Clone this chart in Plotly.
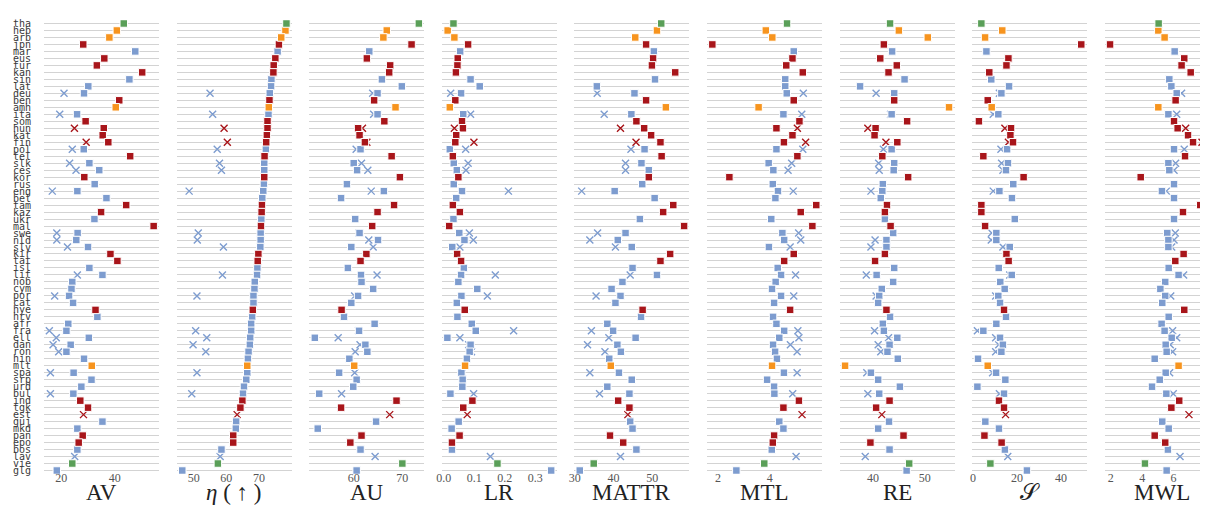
import plotly.graph_objects as go

# ---------------- data ----------------
LANGS = ["tha", "heb", "arb", "jpn", "mar", "eus", "tur", "kan", "sin", "lat",
         "deu", "ben", "amh", "ita", "som", "hun", "kat", "fin", "pol", "tel",
         "slk", "ces", "kor", "rus", "eng", "bel", "tam", "kaz", "ukr", "mal",
         "swe", "nld", "slv", "kir", "tat", "isl", "lit", "nob", "cym", "por",
         "cat", "hye", "hrv", "afr", "fra", "ell", "dan", "ron", "hin", "mlt",
         "spa", "srp", "urd", "bul", "ind", "tgk", "est", "guj", "mkd", "pan",
         "epo", "bos", "lav", "vie", "glg"]

GROUPS = ["g", "o", "o", "r", "b", "r", "r", "r", "b", "b",
          "b", "r", "o", "b", "r", "r", "r", "r", "b", "r",
          "b", "b", "r", "b", "b", "b", "r", "r", "b", "r",
          "b", "b", "b", "r", "r", "b", "b", "b", "b", "b",
          "b", "r", "b", "b", "b", "b", "b", "b", "b", "o",
          "b", "b", "b", "b", "r", "r", "r", "b", "b", "r",
          "r", "b", "b", "g", "b"]

X_LANGS = ["deu", "ita", "hun", "fin", "pol", "slk", "ces", "eng", "swe", "nld",
           "slv", "lit", "por", "fra", "ell", "dan", "ron", "spa", "bul", "est", "lav"]

AV_SQ = [43.4, 40.8, 38.0, 28.2, 47.7, 36.1, 33.3, 50.3, 45.5, 30.1,
         28.5, 41.7, 40.4, 25.9, 29.1, 35.9, 35.5, 37.6, 28.4, 45.8,
         30.5, 34.2, 28.6, 32.5, 26.0, 36.9, 44.3, 34.9, 32.4, 54.6,
         26.1, 25.6, 30.0, 38.4, 41.0, 30.5, 35.4, 24.1, 23.8, 22.9,
         24.4, 32.8, 33.5, 22.6, 21.9, 30.3, 23.5, 21.9, 28.5, 31.4,
         24.6, 31.3, 27.5, 24.5, 27.1, 30.0, None, 35.4, 26.0, 28.0,
         26.5, 26.0, None, 24.1, 18.3]
AV_X = [21.0, 19.4, 24.9, 29.3, 24.1, 23.1, 25.5, 16.6, 18.3, 18.3,
        22.3, 26.0, 17.5, 15.5, 18.1, 16.9, 19.0, 15.9, 15.9, 28.3, 25.0]

ETA_SQ = [78.4, 78.1, 76.8, 76.1, 75.7, 75.0, 74.5, 74.4, 73.8, 73.7,
          73.3, 73.2, 73.0, 72.9, 72.6, 72.6, 72.4, 72.2, 72.1, 71.7,
          71.6, 71.6, 71.6, 71.5, 71.3, 71.0, 70.9, 70.8, 70.7, 70.6,
          70.5, 70.5, 70.4, 69.8, 69.6, 69.5, 69.4, 68.7, 68.6, 68.3,
          68.3, 68.1, 67.9, 67.6, 67.6, 67.3, 67.2, 66.8, 66.6, 66.4,
          66.4, 66.1, 65.4, 65.1, 64.9, 64.3, None, 63.0, 62.9, 62.1,
          62.1, 58.5, None, 57.4, 46.5]
ETA_X = [55.0, 55.8, 59.3, 60.3, 57.2, 57.9, 58.5, 48.6, 51.4, 51.1,
         59.1, 58.8, 51.0, 50.6, 54.0, 49.8, 53.7, 51.0, 49.4, 63.3, 58.1]

AU_SQ = [73.4, 66.8, 66.1, 71.9, 63.2, 62.7, 67.5, 67.3, 65.8, 69.9,
         64.9, 64.2, 68.6, 64.9, 66.3, 60.9, 61.2, 62.3, 61.4, 67.8,
         60.0, 60.7, 69.5, 58.6, 66.2, 57.4, 68.3, 64.9, 60.3, 63.8,
         61.2, 65.0, 59.5, 62.6, 61.4, 58.8, 61.5, 61.6, 64.0, 60.9,
         59.5, 57.5, 58.0, 64.3, 61.1, 52.0, 62.4, 62.8, 59.1, 60.1,
         57.0, 60.6, 59.9, 52.9, 68.8, 57.4, None, 64.6, 52.6, 61.6,
         59.3, 61.4, None, 70.0, 60.6]
AU_X = [63.9, 64.1, 61.8, 62.7, 60.5, 61.6, 62.9, 63.6, 61.1, 63.1,
        64.0, 64.8, 60.2, 61.0, 56.8, 61.3, 60.3, 60.2, 57.5, 67.4, 64.4]

LR_SQ = [0.032, 0.013, 0.035, 0.080, 0.054, 0.046, 0.045, 0.040, 0.088, 0.118,
         0.057, 0.038, 0.020, 0.064, 0.060, 0.063, 0.041, 0.038, 0.020, 0.030,
         0.033, 0.043, 0.048, 0.033, 0.060, 0.041, 0.030, 0.053, 0.032, 0.018,
         0.051, 0.068, 0.028, 0.044, 0.057, 0.066, 0.057, 0.048, 0.110, 0.058,
         0.043, 0.069, 0.045, 0.092, 0.105, 0.012, 0.088, 0.085, 0.076, 0.070,
         0.058, 0.062, 0.061, 0.022, 0.094, 0.064, None, 0.049, 0.026, 0.052,
         0.027, 0.027, None, 0.176, 0.352]
LR_X = [0.023, 0.088, 0.035, 0.099, 0.072, 0.080, 0.073, 0.212, 0.084, 0.097,
        0.053, 0.169, 0.143, 0.229, 0.053, 0.082, 0.091, 0.061, 0.098, 0.077, 0.153]

MATTR_SQ = [52.3, 51.2, 45.6, 48.4, 50.4, 50.2, 49.9, 55.9, 50.7, 35.7,
            45.4, 48.4, 53.5, 44.6, 45.9, 47.9, 49.7, 52.1, 48.0, 52.4,
            47.2, 49.1, 49.1, 47.4, 40.3, 50.6, 55.4, 52.8, 46.8, 58.2,
            43.1, 41.1, 44.7, 54.6, 52.1, 44.9, 51.2, 42.3, 39.5, 41.8,
            40.5, 47.5, 47.1, 38.4, 39.9, 45.7, 41.0, 41.9, 38.9, 39.3,
            41.4, 44.7, 38.4, 44.1, 41.2, 44.1, None, 44.3, 44.9, 39.1,
            42.5, 45.9, None, 34.9, 31.3]
MATTR_X = [35.8, 37.6, 41.8, 45.8, 44.5, 43.1, 43.1, 31.8, 35.9, 33.9,
           40.5, 44.3, 35.5, 34.3, 38.8, 33.3, 37.8, 33.9, 36.4, 43.7, 41.8]

MTL_SQ = [4.67, 3.85, 4.10, 1.78, 4.93, 4.88, 4.64, 5.28, 4.60, 4.60,
          4.66, 4.93, 3.57, 4.53, 5.15, 4.26, 4.88, 4.55, 4.26, 5.07,
          3.96, 4.14, 2.44, 4.12, 4.32, 4.22, 5.80, 5.20, 4.06, 5.65,
          4.49, 4.56, 3.97, 4.93, 4.56, 4.31, 4.44, 4.23, 4.09, 4.44,
          4.17, 4.79, 4.13, 4.26, 4.56, 4.37, 4.13, 4.21, 4.28, 4.09,
          4.55, 3.90, 4.17, 4.18, 5.13, 4.53, None, 4.37, 4.53, 4.17,
          4.12, 4.08, None, 3.79, 2.71]
MTL_X = [5.30, 5.24, 5.07, 5.39, 5.28, 4.85, 4.71, 4.91, 5.12, 5.20,
         4.79, 5.00, 4.93, 5.09, 5.13, 4.80, 5.06, 5.06, 4.89, 5.25, 5.02]

RE_SQ = [43.3, 45.0, 50.6, 42.1, 43.7, 41.4, 44.6, 43.0, 46.1, 37.5,
         44.1, 44.1, 54.7, 43.6, 46.6, 40.5, 40.3, 44.7, 43.6, 41.8,
         44.1, 44.0, 46.8, 41.9, 41.8, 41.5, 42.7, 42.3, 42.3, 43.4,
         43.9, 42.6, 42.6, 42.3, 40.4, 44.1, 40.7, 43.9, 41.7, 41.2,
         41.0, 42.6, 43.3, 41.9, 42.1, 44.7, 43.2, 42.8, 44.8, 34.6,
         39.6, 41.0, 45.2, 41.2, 43.2, 40.6, None, 43.1, 41.0, 45.9,
         39.5, 43.2, None, 47.0, 46.5]
RE_X = [40.6, 43.4, 39.0, 42.5, 42.0, 41.1, 41.2, 39.6, 43.9, 40.4,
        39.6, 38.7, 40.6, 40.3, 43.0, 41.0, 41.5, 38.8, 39.0, 41.7, 38.5]

S_SQ = [3.8, 13.3, 5.5, 49.2, 6.1, 16.1, 15.2, 7.4, 8.3, 16.4,
        12.9, 6.7, 8.5, 11.5, 2.7, 17.3, 17.0, 18.2, 15.5, 4.7,
        15.9, 15.0, 23.0, 18.3, 12.0, 17.7, 3.8, 3.8, 19.0, 5.5,
        10.6, 10.6, 16.7, 15.2, 16.2, 11.7, 17.6, 12.4, 14.4, 11.5,
        12.3, 14.1, 15.0, 10.6, 4.7, 12.3, 13.6, 12.9, 2.3, 6.7,
        10.5, 14.7, 2.0, 14.1, 11.8, 14.1, None, 5.6, 11.8, 5.2,
        13.0, 14.5, None, 7.9, 24.5]
S_X = [12.0, 9.2, 14.5, 16.1, 12.7, 13.0, 13.6, 9.2, 8.5, 8.3,
       13.6, 16.7, 10.3, 2.0, 10.3, 11.7, 10.3, 8.9, 12.0, 14.8, 15.8]

MWL_SQ = [5.05, 5.03, 5.43, 1.96, 6.07, 6.68, 6.51, 7.09, 5.73, 5.86,
          6.20, 6.13, 5.03, 5.67, 6.03, 6.26, 6.92, 7.24, 6.03, 6.73,
          5.67, 5.73, 3.91, 6.03, 5.26, 6.03, 7.70, 6.60, 6.03, 8.55,
          5.60, 5.67, 5.67, 6.64, 6.11, 5.69, 6.32, 5.47, 5.16, 5.47,
          5.28, 6.68, 5.69, 5.24, 5.43, 5.88, 5.50, 5.56, 4.80, 6.32,
          5.50, 5.12, 4.63, 5.54, 6.36, 5.86, None, 5.28, 5.69, 4.80,
          5.47, 5.64, None, 4.18, 5.56]
MWL_X = [6.51, 6.20, 6.77, 7.81, 6.68, 6.13, 6.03, 5.54, 6.11, 6.03,
         5.88, 6.64, 5.82, 5.94, 6.20, 5.79, 5.94, 5.75, 5.98, 6.98, 6.41]

TITLES = ["AV", "<i>η</i> ( ↑ )", "AU", "LR", "MATTR", "MTL", "RE", "𝒮", "MWL"]
TICKS = [[20, 40], [50, 60, 70], [60, 70], [0.0, 0.1, 0.2, 0.3], [30, 40, 50],
         [2, 4], [40, 50], [0, 20, 40], [2, 4, 6, 8]]
TICKTEXT = [["20", "40"], ["50", "60", "70"], ["60", "70"], ["0.0", "0.1", "0.2", "0.3"],
            ["30", "40", "50"], ["2", "4"], ["40", "50"], ["0", "20", "40"], ["2", "4", "6", "8"]]
RANGES = [[13.5, 56.6], [44.76, 79.98], [50.84, 74.5], [-0.0062, 0.3704], [29.92, 59.56],
          [1.574, 6.023], [33.54, 55.78], [-0.36, 51.9], [1.625, 8.70]]

SQUARES = [AV_SQ, ETA_SQ, AU_SQ, LR_SQ, MATTR_SQ, MTL_SQ, RE_SQ, S_SQ, MWL_SQ]
CROSSES = [AV_X, ETA_X, AU_X, LR_X, MATTR_X, MTL_X, RE_X, S_X, MWL_X]

COLORS = {"g": "#5a9f58", "o": "#f7941e", "r": "#a8151a", "b": "#7d9ccf"}

# ---------------- figure ----------------
W, H = 1208, 507
ML, MR, MT, MB = 36, 0, 12, 41
PW = W - ML - MR
PITCH, PANEL = 132.6, 115.0

n = len(LANGS)
ypos = {lang: n - 1 - i for i, lang in enumerate(LANGS)}
group_of = dict(zip(LANGS, GROUPS))

fig = go.Figure()

for p in range(9):
    xa = "x" if p == 0 else f"x{p + 1}"
    ya = "y" if p == 0 else f"y{p + 1}"
    for g in ["b", "r"]:
        xs, ys = [], []
        for lang, v in zip(X_LANGS, CROSSES[p]):
            if group_of[lang] == g and v is not None:
                xs.append(v)
                ys.append(ypos[lang])
        if xs:
            fig.add_trace(go.Scatter(
                x=xs, y=ys, mode="markers", xaxis=xa, yaxis=ya, showlegend=False,
                marker=dict(symbol="x-thin", size=7, color=COLORS[g],
                            line=dict(width=1.4, color=COLORS[g]))))
    for g in ["b", "r", "o", "g"]:
        xs, ys = [], []
        for lang, v in zip(LANGS, SQUARES[p]):
            if group_of[lang] == g and v is not None:
                xs.append(v)
                ys.append(ypos[lang])
        if xs:
            fig.add_trace(go.Scatter(
                x=xs, y=ys, mode="markers", xaxis=xa, yaxis=ya, showlegend=False,
                marker=dict(symbol="square", size=7.5, color=COLORS[g],
                            line=dict(width=1, color="white"))))

layout = dict(
    width=W, height=H,
    margin=dict(l=ML, r=MR, t=MT, b=MB, pad=0),
    paper_bgcolor="white", plot_bgcolor="white",
    showlegend=False,
)
annotations = []
for p in range(9):
    x0 = p * PITCH / PW
    x1 = min(1.0, (p * PITCH + PANEL) / PW)
    xk = "xaxis" if p == 0 else f"xaxis{p + 1}"
    yk = "yaxis" if p == 0 else f"yaxis{p + 1}"
    layout[xk] = dict(
        domain=[x0, x1], range=RANGES[p], anchor="y" if p == 0 else f"y{p + 1}",
        showgrid=False, zeroline=False, showline=False, ticks="",
        tickvals=TICKS[p], ticktext=TICKTEXT[p], ticklabelstandoff=-5,
        tickfont=dict(family="Liberation Serif", size=12, color="#555555"),
        automargin=False, fixedrange=True,
    )
    layout[yk] = dict(
        domain=[0, 1], range=[-0.5, n - 0.5], anchor="x" if p == 0 else f"x{p + 1}",
        showgrid=True, gridcolor="#d3d3d3", gridwidth=1.4, zeroline=False,
        showline=False, ticks="",
        tickvals=list(range(n)), ticktext=[LANGS[n - 1 - k] for k in range(n)],
        showticklabels=(p == 0), ticklabelstandoff=12,
        tickfont=dict(family="DejaVu Sans Mono", size=10, color="#3a3a3a"),
        automargin=False, fixedrange=True,
    )
    if p > 0:
        layout[yk]["matches"] = "y"
    annotations.append(dict(
        text=TITLES[p], xref=("x" if p == 0 else f"x{p + 1}") + " domain",
        yref="paper", x=0.5 if p < 8 else (0.5 * PANEL / (PW - p * PITCH)),
        y=-0.041, xanchor="center", yanchor="middle", showarrow=False,
        font=dict(family="Liberation Serif", size=23, color="#222222")))
layout["annotations"] = annotations
fig.update_layout(**layout)

fig.write_html("out.html")
